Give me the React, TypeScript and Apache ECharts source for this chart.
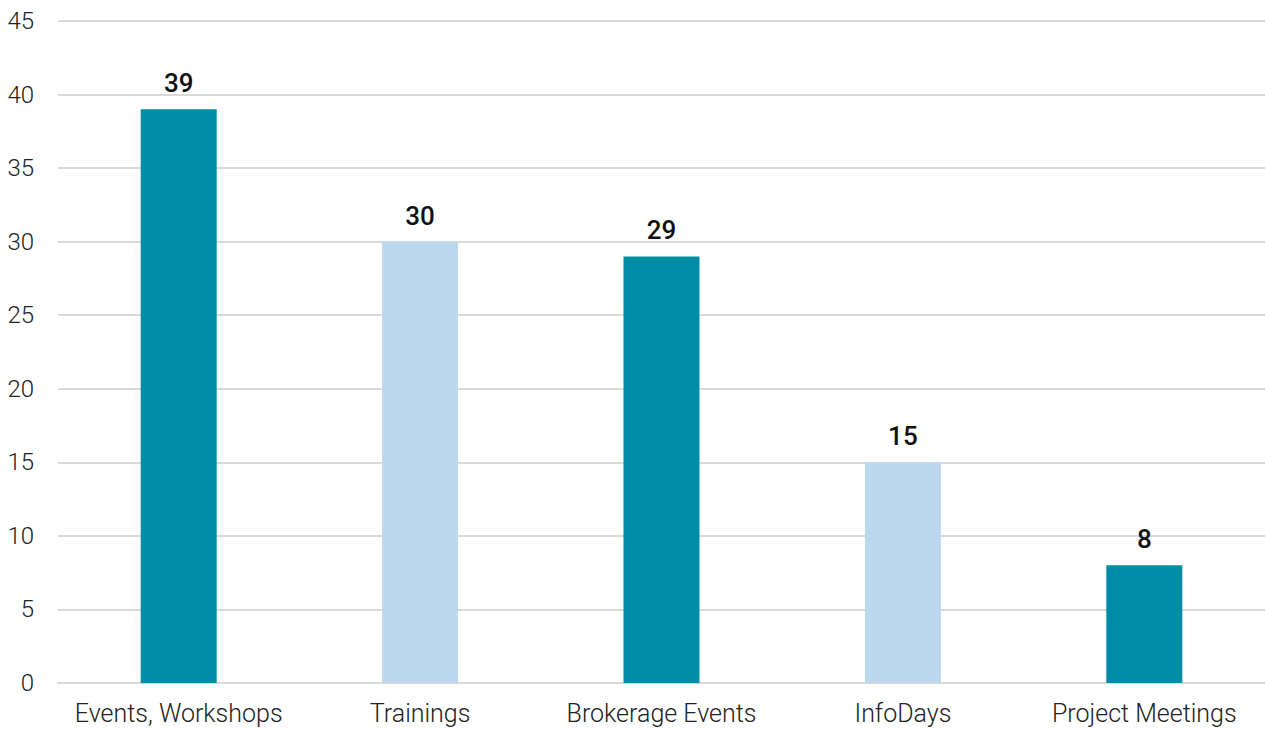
import React, { useEffect, useRef } from "react";
import * as echarts from "echarts";

const categories = ["Events, Workshops", "Trainings", "Brokerage Events", "InfoDays", "Project Meetings"];
const values = [39, 30, 29, 15, 8];
const barColors = ["#008da5", "#bdd7ee", "#008da5", "#bdd7ee", "#008da5"];

export default function App() {
  const ref = useRef<HTMLDivElement>(null);
  useEffect(() => {
    document.body.style.margin = "0";
    const chart = echarts.init(ref.current!, null, { renderer: "svg" });
    chart.setOption({
      animation: false,
      grid: { left: 58, right: -3, top: 21, bottom: 46, containLabel: false },
      xAxis: {
        type: "category",
        data: categories,
        axisLine: { show: true, lineStyle: { color: "#d9d9d9", width: 2 } },
        axisTick: { show: false },
        axisLabel: { interval: 0, color: "#222", fontSize: 25, fontFamily: "Roboto", fontWeight: 300, margin: 18 },
      },
      yAxis: {
        type: "value",
        min: 0,
        max: 45,
        interval: 5,
        axisLine: { show: false },
        axisTick: { show: false },
        splitLine: { lineStyle: { color: "#d9d9d9", width: 2 } },
        axisLabel: { color: "#222", fontSize: 24, fontFamily: "Roboto", fontWeight: 300, margin: 24 },
      },
      series: [
        {
          type: "bar",
          data: values.map((v, i) => ({ value: v, itemStyle: { color: barColors[i] } })),
          barWidth: 76,
          label: {
            show: true,
            position: "top",
            distance: 13,
            color: "#111",
            fontSize: 26,
            fontFamily: "Roboto",
            fontWeight: 500,
          },
        },
      ],
    });
    return () => chart.dispose();
  }, []);
  return <div ref={ref} style={{ width: 1265, height: 729 }} />;
}
